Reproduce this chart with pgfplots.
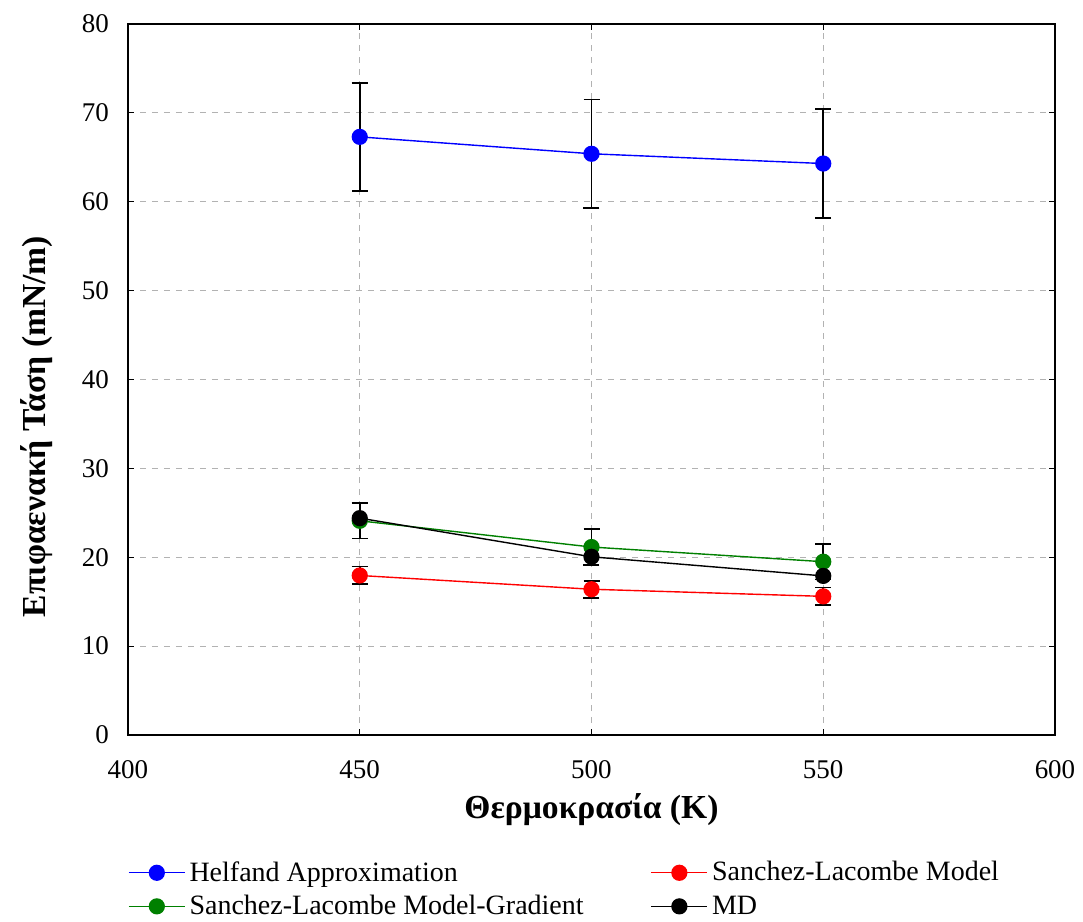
\documentclass[border=0pt]{standalone}
\usepackage{fontspec}
\setmainfont{Liberation Serif}
\usepackage{pgfplots}
\pgfplotsset{compat=1.18}
\begin{document}
\begin{tikzpicture}[x=1pt,y=1pt]
\path[use as bounding box] (-64,-93.5) rectangle (477.5,367.5);
\begin{axis}[
  at={(0,0)}, anchor=south west,
  scale only axis, width=463.5pt, height=355.5pt,
  xmin=400, xmax=600, ymin=0, ymax=80,
  xtick={400,450,...,600}, ytick={0,10,...,80},
  tick align=inside, major tick length=3pt,
  tick style={black, line width=0.6pt},
  axis line style={line width=0.8pt},
  grid=major, major grid style={gray!60, dashed, line width=0.4pt},
  /pgf/number format/assume math mode=true,
  ticklabel style={font=\fontsize{13.5}{15}\selectfont},
  xticklabel style={yshift=-9pt},
  yticklabel style={xshift=-6pt},
  xlabel={\textbf{Θερμοκρασία (K)}},
  ylabel={\textbf{Επιφαενακή Τάση (mN/m)}},
  label style={font=\fontsize{16.8}{18}\selectfont},
  xlabel style={yshift=-1pt},
  ylabel style={yshift=8pt, xshift=-23.5pt},
  legend columns=2,
  legend cell align=left,
  legend style={at={(0.472,-0.166)}, anchor=north, draw=none, fill=none,
    font=\fontsize{14}{16}\selectfont, /tikz/every even column/.append style={column sep=31.5pt},
    row sep=1.5pt},
  legend image code/.code={
    \draw[#1] (0pt,0pt) -- (28pt,0pt);
    \draw[#1,mark repeat=2,mark phase=2] plot coordinates {(0pt,0pt) (14pt,0pt) (28pt,0pt)};
  },
  every axis plot/.append style={line width=0.7pt, mark=*, mark size=3.7pt, mark options={solid}},
  error bars/error bar style={black, line width=0.9pt},
  error bars/error mark options={rotate=90, mark size=4pt, black, line width=0.9pt},
]
\addplot[blue, mark options={fill=blue}, error bars/.cd, y dir=both, y explicit]
  coordinates {(450,67.3) +- (0,6.1) (500,65.4) +- (0,6.1) (550,64.3) +- (0,6.1)};
\addlegendentry{Helfand Approximation}
\addplot[red, mark options={fill=red}, error bars/.cd, y dir=both, y explicit]
  coordinates {(450,17.95) +- (0,1.0) (500,16.4) +- (0,0.95) (550,15.6) +- (0,1.0)};
\addlegendentry{Sanchez-Lacombe Model}
\addplot[green!50!black, mark options={fill=green!50!black}, error bars/.cd, y dir=both, y explicit]
  coordinates {(450,24.1) +- (0,2.0) (500,21.15) +- (0,2.0) (550,19.5) +- (0,2.0)};
\addlegendentry{Sanchez-Lacombe Model-Gradient}
\addplot[black, mark options={fill=black}]
  coordinates {(450,24.4) (500,20.05) (550,17.9)};
\addlegendentry{MD}
\end{axis}
\end{tikzpicture}
\end{document}
